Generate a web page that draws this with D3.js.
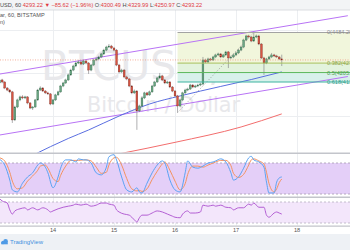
<!DOCTYPE html>
<html>
<head>
<meta charset="utf-8">
<script src="https://cdn.jsdelivr.net/npm/d3@7"></script>
<style>
html, body { margin: 0; padding: 0; background: #fff; overflow: hidden; }
svg { display: block; font-family: "Liberation Sans", Arial, sans-serif; }
</style>
</head>
<body>
<svg id="chart" width="350" height="250"></svg>
<script>
//// DATA ///////////////////////////////////////////////////////////////////////

// hourly BITSTAMP candles, first one at hour 3 of the 13th, one per hour
var firstHour = 3;
var candles = [
	[4133, 4165, 4124, 4154], [4154, 4162, 4131, 4140], [4140, 4146, 4090, 4098], [4098, 4105, 4076, 4084],
	[4084, 4092, 4062, 4071], [4071, 4078, 3855, 3876], [3876, 3975, 3868, 3966], [3966, 4024, 3958, 4015],
	[4015, 4045, 4006, 4036], [4036, 4048, 4020, 4029], [4029, 4044, 4021, 4036], [4036, 4042, 3985, 3994],
	[3994, 4000, 3951, 3959], [3959, 3972, 3945, 3966], [3966, 4022, 3960, 4015], [4015, 4092, 4008, 4084],
	[4084, 4110, 4078, 4098], [4098, 4105, 4070, 4077], [4077, 4084, 4056, 4064], [4064, 4072, 4049, 4057],
	[4057, 4063, 3978, 3987], [3987, 4022, 3980, 4015], [4015, 4058, 4008, 4050], [4050, 4079, 4043, 4071],
	[4071, 4120, 4064, 4112], [4112, 4141, 4104, 4133], [4133, 4163, 4126, 4154], [4154, 4198, 4147, 4189],
	[4189, 4232, 4182, 4223], [4223, 4260, 4215, 4251], [4251, 4281, 4243, 4272], [4272, 4290, 4264, 4279],
	[4279, 4286, 4257, 4265], [4265, 4295, 4258, 4286], [4286, 4293, 4263, 4272], [4272, 4279, 4196, 4223],
	[4223, 4266, 4215, 4258], [4258, 4301, 4250, 4293], [4293, 4310, 4285, 4300], [4300, 4322, 4292, 4314],
	[4314, 4343, 4306, 4335], [4335, 4371, 4327, 4362], [4362, 4392, 4354, 4383], [4383, 4404, 4375, 4390],
	[4390, 4398, 4368, 4376], [4376, 4384, 4353, 4362], [4362, 4369, 4250, 4258], [4258, 4266, 4200, 4210],
	[4210, 4232, 4202, 4223], [4223, 4230, 4166, 4175], [4175, 4184, 4152, 4161], [4161, 4168, 4104, 4112],
	[4112, 4119, 4055, 4064], [4064, 4088, 4056, 4077], [4077, 4084, 3807, 3939], [3939, 3982, 3930, 3973],
	[3973, 4038, 3966, 4029], [4029, 4072, 4021, 4064], [4064, 4071, 4042, 4050], [4050, 4080, 4043, 4071],
	[4071, 4120, 4064, 4112], [4112, 4148, 4105, 4140], [4140, 4176, 4133, 4168], [4168, 4203, 4160, 4182],
	[4182, 4190, 4146, 4154], [4154, 4161, 4125, 4133], [4133, 4149, 4126, 4140], [4140, 4147, 4097, 4105],
	[4105, 4112, 4069, 4077], [4077, 4084, 4035, 4043], [4043, 4050, 3927, 3973], [3973, 4024, 3965, 4015],
	[4015, 4072, 4007, 4064], [4064, 4093, 4057, 4084], [4084, 4100, 4076, 4091], [4091, 4127, 4084, 4119],
	[4119, 4126, 4097, 4105], [4105, 4121, 4098, 4112], [4112, 4128, 4104, 4119], [4119, 4135, 4111, 4126],
	[4126, 4314, 4118, 4293], [4293, 4302, 4271, 4279], [4279, 4309, 4272, 4300], [4300, 4308, 4285, 4293],
	[4293, 4322, 4286, 4314], [4314, 4337, 4306, 4328], [4328, 4344, 4320, 4335], [4335, 4342, 4306, 4314],
	[4314, 4336, 4307, 4328], [4328, 4357, 4320, 4349], [4349, 4356, 4237, 4307], [4307, 4323, 4299, 4314],
	[4314, 4336, 4306, 4328], [4328, 4350, 4320, 4342], [4342, 4371, 4334, 4362], [4362, 4392, 4354, 4383],
	[4383, 4441, 4375, 4432], [4432, 4468, 4424, 4460], [4460, 4469, 4445, 4453], [4453, 4460, 4417, 4425],
	[4425, 4484, 4418, 4453], [4453, 4470, 4445, 4460], [4460, 4468, 4396, 4404], [4404, 4411, 4299, 4307],
	[4307, 4315, 4189, 4272], [4272, 4308, 4264, 4300], [4300, 4322, 4292, 4314], [4314, 4342, 4306, 4328],
	[4328, 4336, 4313, 4321], [4321, 4329, 4306, 4314], [4314, 4320, 4292, 4300], [4300.49, 4329.99, 4250.97, 4293.22]
];

var symbol = "BTCUSD";
var interval = "60";
var description = "Bitcoin / Dollar";
var exchange = "BITSTAMP";
var priceChange = -85.62;
var pctChange = -1.96;

var dayTicks = [24, 48, 72, 96, 120];
var dayLabels = ["14", "15", "16", "17", "18"];
var gridPrices = [3900, 4200, 4500];

// [hour, price]
var sma100 = [[16, 3630], [30, 3747], [38, 3806], [50, 3903], [62, 3987], [74, 4043], [90, 4109], [102, 4157], [114, 4210]];
var sma200 = [[50, 3640], [72, 3720], [98, 3827], [114, 3918]];
var channelUpper = [[3, 4195], [140, 4601]];
var channelLower = [[3, 3771], [140, 4178]];

var fibLow = [73, 3927];
var fibHigh = [103, 4484.2];
var fibLevels = [0, 0.382, 0.5, 0.618];

// [hour, value]
var stochK = [[3,87],[5,76],[7,47],[8,28],[10,24],[12,41],[14,53],[16,61],[18,76],[19,80],[21,72],[22,61],
	[24,32],[26,53],[27,70],[29,86],[31,86],[33,82],[34,88],[36,86],[37,86],[39,80],[41,61],[43,57],[45,72],
	[46,92],[48,96],[49,86],[51,53],[53,28],[55,24],[57,32],[58,24],[59,22],[61,41],[63,61],[65,76],[67,84],
	[68,80],[70,47],[72,28],[74,24],[76,61],[77,84],[79,72],[81,70],[83,74],[85,80],[87,82],[88,84],[90,88],
	[92,82],[94,61],[95,47],[97,53],[99,70],[101,90],[102,93],[103,86],[105,82],[107,72],[108,43],[109,22],
	[111,22],[112,43],[113,51],[114,53]];
var stochD = [[3,90],[5,84],[7,62],[8,45],[10,30],[12,32],[14,45],[16,55],[18,66],[19,74],[21,76],[22,70],
	[24,50],[26,44],[27,56],[29,74],[31,85],[33,85],[34,85],[36,86],[37,86],[39,84],[41,72],[43,60],[45,62],
	[46,76],[48,90],[49,91],[51,76],[53,50],[55,30],[57,26],[58,27],[59,25],[61,30],[63,48],[65,64],[67,78],
	[68,82],[70,66],[72,45],[74,28],[76,40],[77,58],[79,74],[81,74],[83,72],[85,76],[87,80],[88,82],[90,85],
	[92,85],[94,75],[95,60],[97,52],[99,58],[101,76],[102,86],[103,88],[105,84],[107,78],[108,62],[109,40],
	[111,24],[112,30],[113,42],[114,49]];
var stochBands = [80, 20];

var rsi = [[3,76],[4,72],[6,68],[7,55],[8,47],[9,53],[11,57],[13,59],[14,55],[16,59],[18,55],[20,59],[22,55],
	[23,51],[24,53],[26,57],[28,60],[30,62],[32,64],[33,66],[35,64],[37,66],[39,62],[41,64],[43,68],[45,68],
	[46,66],[48,64],[49,55],[50,51],[52,47],[54,45],[55,41],[56,36],[57,32],[58,40],[59,45],[61,45],[63,49],
	[65,53],[67,51],[69,47],[71,43],[72,41],[74,40],[75,47],[77,53],[78,49],[80,49],[82,51],[83,64],[85,62],
	[87,64],[88,62],[90,64],[92,60],[94,59],[95,55],[97,59],[99,59],[101,66],[102,64],[103,68],[105,60],
	[107,60],[108,45],[109,41],[111,49],[112,51],[113,49],[114,47]];
var rsiBands = [70, 30];


//// SETTINGS ///////////////////////////////////////////////////////////////////

var W = 350, H = 250;
var main = { top: 10, bottom: 152.5 };
var stoch = { top: 154, bottom: 196.5 };
var osc = { top: 198, bottom: 225.5 };

var upColor = "#6ba583", downColor = "#d75442";
var upBorder = "#2e6a47", downBorder = "#7a2a20";
var red = "#e0393e", dark = "#4a4a4a";
var fibLine = ["#a3a3a3", "#a7bf5b", "#5cb85c", "#3cb3a0"];
var fibFill = ["#f1f6dc", "#e3f3dd", "#d8f1eb"];

var x = d3.scaleLinear().domain([24, 120]).range([53, 297]);
var y = d3.scaleLinear().domain([fibLow[1], fibHigh[1]]).range([112.6, 32.5]);
var ys = d3.scaleLinear().domain([20, 80]).range([194, 163]);
var yr = d3.scaleLinear().domain([30, 70]).range([223, 202]);

var svg = d3.select("#chart");


//// BACKGROUND & GRID //////////////////////////////////////////////////////////

svg.append("rect").attr("width", W).attr("height", H).attr("fill", "#fff");
svg.append("rect").attr("width", W).attr("height", main.top).attr("fill", "#f3f4f6");
svg.append("rect").attr("y", 234).attr("width", W).attr("height", H - 234).attr("fill", "#eef1f5");

var defs = svg.append("defs");
function clip(id, p) {
	defs.append("clipPath").attr("id", id)
		.append("rect").attr("x", 0).attr("y", p.top).attr("width", W).attr("height", p.bottom - p.top);
	return "url(#" + id + ")";
}
var clipMain = clip("clip-main", main);
var clipStoch = clip("clip-stoch", stoch);
var clipOsc = clip("clip-osc", osc);

var grid = svg.append("g").attr("stroke", "#eceef1").attr("stroke-width", 1);
grid.selectAll("line.v").data(dayTicks).enter().append("line")
	.attr("x1", d => Math.round(x(d)) + 0.5).attr("x2", d => Math.round(x(d)) + 0.5)
	.attr("y1", main.top).attr("y2", osc.bottom);
grid.selectAll("line.h").data(gridPrices).enter().append("line")
	.attr("x1", 0).attr("x2", W)
	.attr("y1", d => Math.round(y(d)) + 0.5).attr("y2", d => Math.round(y(d)) + 0.5)
	.attr("clip-path", clipMain);

// watermark
var wm = svg.append("g").attr("fill", "#e8e8eb").attr("text-anchor", "middle")
	.style("font-family", "'DejaVu Sans', sans-serif");
wm.append("text").attr("x", 163.5).attr("y", 80).style("font-size", "41px")
	.text(symbol + ", " + interval);
wm.append("text").attr("x", 163.5).attr("y", 112).style("font-size", "20.8px")
	.text(description);


//// MAIN PANE //////////////////////////////////////////////////////////////////

var mainG = svg.append("g").attr("clip-path", clipMain);

// fibonacci retracement box
var fibRange = fibHigh[1] - fibLow[1];
var fibPrices = fibLevels.map(l => fibHigh[1] - l * fibRange);
var fibX = x(fibLow[0]);
mainG.selectAll("rect.fib").data(fibPrices.slice(1)).enter().append("rect")
	.attr("x", fibX).attr("width", W - fibX)
	.attr("y", (d, i) => y(fibPrices[i]))
	.attr("height", (d, i) => y(d) - y(fibPrices[i]))
	.attr("fill", (d, i) => fibFill[i]);

var line = d3.line().x(d => x(d[0])).y(d => y(d[1]));
var smooth = d3.line().x(d => x(d[0])).y(d => y(d[1])).curve(d3.curveMonotoneX);

mainG.append("path").datum(channelUpper).attr("d", line)
	.attr("fill", "none").attr("stroke", "#b873f5").attr("stroke-width", 1);
mainG.append("path").datum(channelLower).attr("d", line)
	.attr("fill", "none").attr("stroke", "#b873f5").attr("stroke-width", 1);
mainG.append("path").datum(sma100).attr("d", smooth)
	.attr("fill", "none").attr("stroke", "#5a6ee0").attr("stroke-width", 1);
mainG.append("path").datum(sma200).attr("d", smooth)
	.attr("fill", "none").attr("stroke", "#f26d6d").attr("stroke-width", 1);

// candles
var bw = 1.8;
var cg = mainG.selectAll("g.candle").data(candles).enter().append("g");
cg.append("line")
	.attr("x1", (d, i) => x(firstHour + i)).attr("x2", (d, i) => x(firstHour + i))
	.attr("y1", d => y(d[1])).attr("y2", d => y(d[2]))
	.attr("stroke", "#7a7a7d").attr("stroke-width", 0.6);
cg.append("rect")
	.attr("x", (d, i) => x(firstHour + i) - bw / 2).attr("width", bw)
	.attr("y", d => y(Math.max(d[0], d[3])))
	.attr("height", d => Math.max(0.7, Math.abs(y(d[0]) - y(d[3]))))
	.attr("fill", d => d[3] >= d[0] ? upColor : downColor)
	.attr("stroke", d => d[3] >= d[0] ? upBorder : downBorder)
	.attr("stroke-width", 0.35);

// fib lines, trend line and labels
mainG.append("line")
	.attr("x1", x(fibLow[0])).attr("y1", y(fibLow[1]))
	.attr("x2", x(fibHigh[0])).attr("y2", y(fibHigh[1]))
	.attr("stroke", "#8d8d8d").attr("stroke-width", 0.7).attr("stroke-dasharray", "1.2,1.8");
mainG.selectAll("line.fib").data(fibPrices).enter().append("line")
	.attr("x1", fibX).attr("x2", W)
	.attr("y1", d => y(d)).attr("y2", d => y(d))
	.attr("stroke", (d, i) => fibLine[i]).attr("stroke-width", 1);
mainG.selectAll("text.fib").data(fibPrices).enter().append("text")
	.attr("x", 327).attr("y", d => y(d)).attr("dy", "0.35em")
	.style("font-size", "5.6px")
	.attr("fill", (d, i) => d3.color(fibLine[i]).darker(0.4))
	.text((d, i) => fibLevels[i] + "(" + d.toFixed(2) + ")");

// last price line
var last = candles[candles.length - 1];
mainG.append("line")
	.attr("x1", 0).attr("x2", W)
	.attr("y1", y(last[3])).attr("y2", y(last[3]))
	.attr("stroke", "#f09a82").attr("stroke-width", 0.8).attr("stroke-dasharray", "1,1.5");


//// STOCHASTIC PANE ////////////////////////////////////////////////////////////

var stG = svg.append("g").attr("clip-path", clipStoch);
stG.append("rect").attr("x", 0).attr("width", W)
	.attr("y", ys(stochBands[0])).attr("height", ys(stochBands[1]) - ys(stochBands[0]))
	.attr("fill", "#e4cff8");
stG.selectAll("line.band").data(stochBands).enter().append("line")
	.attr("x1", 0).attr("x2", W).attr("y1", d => ys(d)).attr("y2", d => ys(d))
	.attr("stroke", "#a49bb0").attr("stroke-width", 0.8).attr("stroke-dasharray", "2,2");
var stLine = d3.line().x(d => x(d[0])).y(d => ys(d[1])).curve(d3.curveMonotoneX);
stG.append("path").datum(stochD).attr("d", stLine)
	.attr("fill", "none").attr("stroke", "#f39260").attr("stroke-width", 1);
stG.append("path").datum(stochK).attr("d", stLine)
	.attr("fill", "none").attr("stroke", "#5aa2f2").attr("stroke-width", 1);


//// RSI PANE ///////////////////////////////////////////////////////////////////

var rG = svg.append("g").attr("clip-path", clipOsc);
rG.append("rect").attr("x", 0).attr("width", W)
	.attr("y", yr(rsiBands[0])).attr("height", yr(rsiBands[1]) - yr(rsiBands[0]))
	.attr("fill", "#f3e6fb");
rG.selectAll("line.band").data(rsiBands).enter().append("line")
	.attr("x1", 0).attr("x2", W).attr("y1", d => yr(d)).attr("y2", d => yr(d))
	.attr("stroke", "#b5aec0").attr("stroke-width", 0.8).attr("stroke-dasharray", "2,2");
rG.append("path").datum(rsi)
	.attr("d", d3.line().x(d => x(d[0])).y(d => yr(d[1])).curve(d3.curveMonotoneX))
	.attr("fill", "none").attr("stroke", "#b35fd3").attr("stroke-width", 1);


//// SEPARATORS, AXIS, LEGEND ///////////////////////////////////////////////////

svg.selectAll("line.sep").data([main.top, main.bottom + 0.8, stoch.bottom + 0.8, osc.bottom + 0.6]).enter()
	.append("line")
	.attr("x1", 0).attr("x2", W).attr("y1", d => d).attr("y2", d => d)
	.attr("stroke", (d, i) => i === 0 ? "#d3d5da" : "#c3c5cb")
	.attr("stroke-width", (d, i) => i === 0 ? 0.8 : 1.4);

svg.selectAll("text.day").data(dayTicks).enter().append("text")
	.attr("x", d => x(d)).attr("y", 231.5).attr("text-anchor", "middle")
	.style("font-size", "5.6px").attr("fill", "#555")
	.text((d, i) => dayLabels[i]);

// header legend, cut at the left edge like the original crop
var head = svg.append("text").attr("y", 6.6).style("font-size", "5.6px");
[
	[symbol + ", " + interval + " ", dark],
	[last[3].toFixed(2) + " ", red],
	["\u25BC ", red],
	[(priceChange < 0 ? "\u2212" : "") + Math.abs(priceChange).toFixed(2) + " (" +
		(pctChange < 0 ? "\u2212" : "") + Math.abs(pctChange).toFixed(2) + "%) ", red],
	["O:", dark], [last[0].toFixed(2) + " ", red],
	["H:", dark], [last[1].toFixed(2) + " ", red],
	["L:", dark], [last[2].toFixed(2) + " ", red],
	["C:", dark], [last[3].toFixed(2), red]
].forEach(function(s) {
	head.append("tspan").attr("fill", s[1]).text(s[0]);
});
head.attr("x", -head.node().getSubStringLength(0, 3));

var sub = svg.append("text").attr("y", 17).style("font-size", "5.6px").attr("fill", "#555")
	.text(description + ", " + interval + ", " + exchange);
sub.attr("x", -sub.node().getSubStringLength(0, 14));

var sub2txt = "Volume (hidden)";
var sub2 = svg.append("text").attr("y", 23.5).style("font-size", "5.6px").attr("fill", "#555")
	.text(sub2txt);
sub2.attr("x", -sub2.node().getSubStringLength(0, sub2txt.length - 2));

// tradingview logo
var logo = svg.append("g").attr("fill", "#4f9be6");
logo.append("circle").attr("cx", 3).attr("cy", 242.5).attr("r", 1.8);
logo.append("circle").attr("cx", 5.6).attr("cy", 241.3).attr("r", 2.3);
logo.append("rect").attr("x", 1.2).attr("y", 242.3).attr("width", 6.6).attr("height", 2);
svg.append("text").attr("x", 10).attr("y", 244.2).style("font-size", "6px")
	.attr("fill", "#3d8fe0").text("TradingView");
</script>
</body>
</html>
